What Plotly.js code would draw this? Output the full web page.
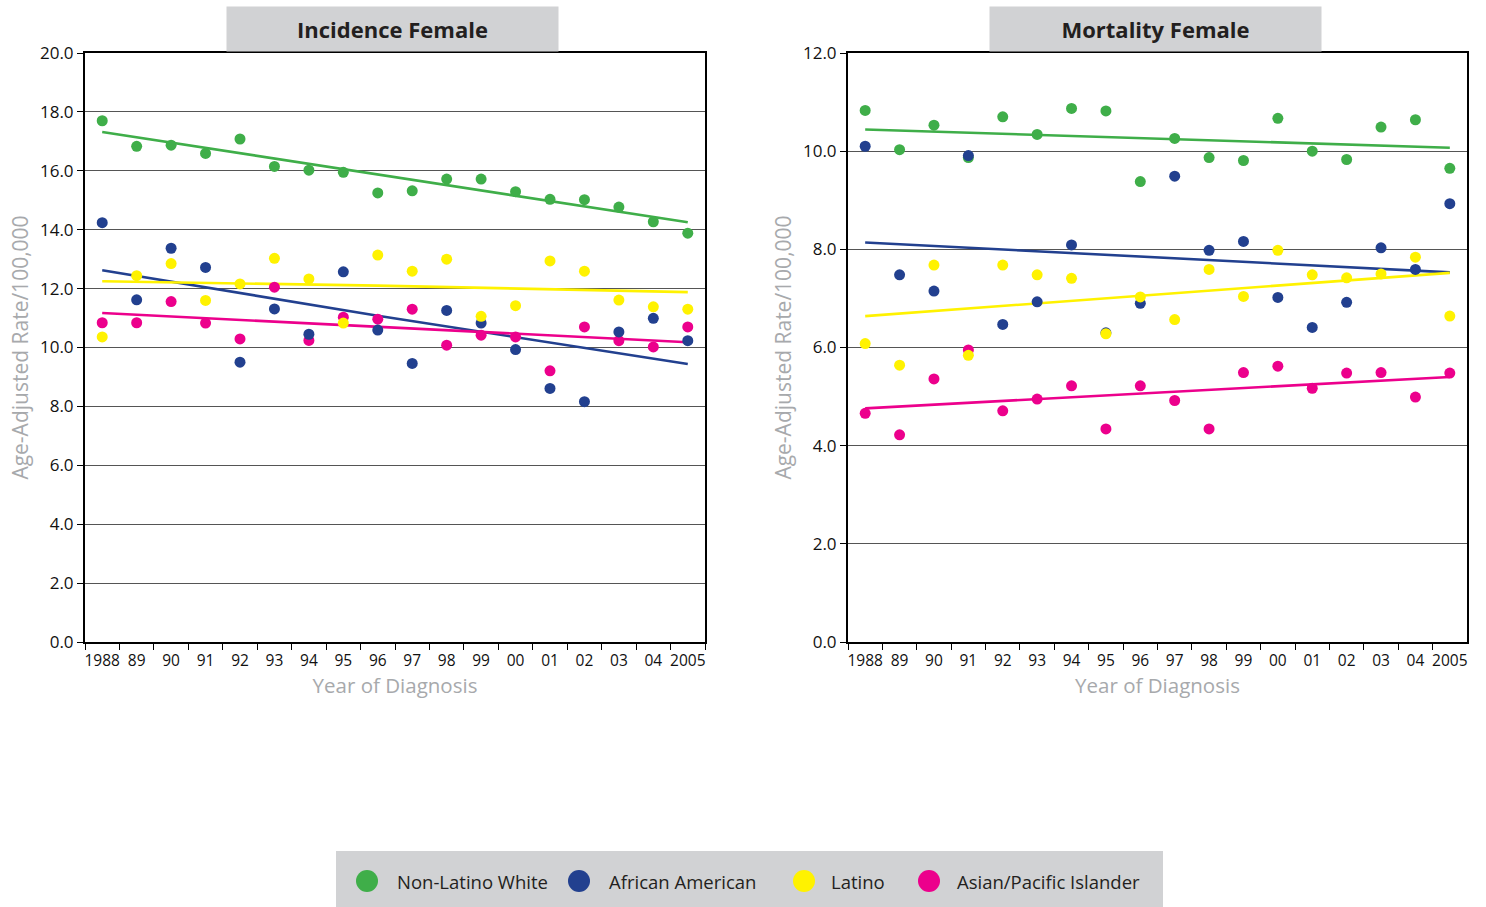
<!DOCTYPE html>
<html>
<head>
<meta charset="utf-8">
<script src="https://cdn.plot.ly/plotly-3.0.1.min.js"></script>
<style>html,body{margin:0;padding:0;background:#fff;}#chart{width:1486px;height:907px;}</style>
</head>
<body>
<div id="chart"></div>
<script>
// ---- data ----
const years = ['1988','89','90','91','92','93','94','95','96','97','98','99','00','01','02','03','04','2005'];
const seriesNames = ['Non-Latino White','African American','Latino','Asian/Pacific Islander'];

const incWhite  = [17.70,16.83,16.87,16.59,17.08,16.15,16.02,15.95,15.25,15.32,15.72,15.72,15.29,15.03,15.02,14.77,14.27,13.88];
const incBlack  = [14.24,11.62,13.37,12.72,9.50,11.31,10.45,12.57,10.59,9.46,11.26,10.83,9.93,8.61,8.16,10.53,10.99,10.23];
const incLatino = [10.36,12.44,12.85,11.60,12.16,13.03,12.33,10.83,13.14,12.59,13.00,11.06,11.42,12.94,12.59,11.61,11.38,11.30];
const incAPI    = [10.84,10.84,11.56,10.83,10.29,12.05,10.24,11.03,10.96,11.30,10.08,10.42,10.36,9.21,10.70,10.23,10.02,10.70];

const morWhite  = [10.83,10.03,10.53,9.87,10.70,10.34,10.87,10.82,9.38,10.26,9.87,9.81,10.67,10.00,9.83,10.49,10.64,9.65];
const morBlack  = [10.10,7.48,7.15,9.91,6.47,6.93,8.09,6.30,6.90,9.49,7.98,8.16,7.02,6.41,6.92,8.03,7.59,8.93];
const morLatino = [6.08,5.64,7.68,5.84,7.68,7.48,7.41,6.28,7.03,6.57,7.59,7.04,7.98,7.48,7.42,7.50,7.84,6.64];
const morAPI    = [4.66,4.22,5.36,5.95,4.71,4.95,5.22,4.34,5.22,4.92,4.34,5.49,5.62,5.17,5.48,5.49,4.99,5.48];

// trend lines
const incTrendYears = ['1988','96','2005'];
const incTrendWhite  = [17.32,15.87,14.25];
const incTrendBlack  = [12.62,11.08,9.44];
const incTrendLatino = [12.25,12.10,11.88];
const incTrendAPI    = [11.17,10.71,10.18];

const morTrendYears = ['1988','2005'];
const morTrendWhite  = [10.44,10.07];
const morTrendBlack  = [8.14,7.53];
const morTrendLatino = [6.64,7.52];
const morTrendAPI    = [4.76,5.40];

const yTickVals = [0,2,4,6,8,10,12,14,16,18,20];

// ---- styles ----
const colors = {white:'#3fae49', black:'#22408f', latino:'#fff200', api:'#ec008c'};
const FONT = 'Open Sans, Noto Sans, sans-serif';
const W = 1486, H = 907;
const px = v => v / W;
const py = v => 1 - v / H;

function pts(x, y, color, xa, ya) {
  return {type:'scatter', mode:'markers', x:x, y:y, xaxis:xa, yaxis:ya, showlegend:false,
    marker:{size:11, color:color, line:{width:0}}, hoverinfo:'x+y'};
}
function trend(x, y, color, xa, ya) {
  return {type:'scatter', mode:'lines', x:x, y:y, xaxis:xa, yaxis:ya, showlegend:false,
    line:{color:color, width:2.6}, hoverinfo:'skip'};
}

const data = [
  trend(incTrendYears, incTrendWhite, colors.white, 'x', 'y'),
  trend(incTrendYears, incTrendBlack, colors.black, 'x', 'y'),
  trend(incTrendYears, incTrendLatino, colors.latino, 'x', 'y'),
  trend(incTrendYears, incTrendAPI, colors.api, 'x', 'y'),
  pts(years, incWhite, colors.white, 'x', 'y'),
  pts(years, incAPI, colors.api, 'x', 'y'),
  pts(years, incBlack, colors.black, 'x', 'y'),
  pts(years, incLatino, colors.latino, 'x', 'y'),

  trend(morTrendYears, morTrendWhite, colors.white, 'x2', 'y2'),
  trend(morTrendYears, morTrendBlack, colors.black, 'x2', 'y2'),
  trend(morTrendYears, morTrendLatino, colors.latino, 'x2', 'y2'),
  trend(morTrendYears, morTrendAPI, colors.api, 'x2', 'y2'),
  pts(years, morWhite, colors.white, 'x2', 'y2'),
  pts(years, morAPI, colors.api, 'x2', 'y2'),
  pts(years, morBlack, colors.black, 'x2', 'y2'),
  pts(years, morLatino, colors.latino, 'x2', 'y2')
];

function xAxis(domain, anchor) {
  return {domain:domain, anchor:anchor, type:'category', categoryorder:'array', categoryarray:years,
    range:[-0.5, 17.5], tickson:'boundaries', ticks:'outside', ticklen:6, tickwidth:1, tickcolor:'#000',
    tickangle:0, ticklabelstandoff:3, showline:true, linecolor:'#000', linewidth:2, mirror:true,
    showgrid:false, zeroline:false,
    tickfont:{family:FONT, size:15.5, color:'#111'},
    title:{text:'Year of Diagnosis', font:{family:FONT, size:20.5, color:'#a7a9ac'}, standoff:1}};
}
function yAxis(domain, anchor, max) {
  return {domain:domain, anchor:anchor, range:[0, max], tickvals:yTickVals.filter(v => v <= max),
    tickformat:'.1f', ticks:'outside', ticklen:6, tickwidth:1, tickcolor:'#000',
    showline:true, linecolor:'#000', linewidth:2, mirror:true,
    showgrid:true, gridcolor:'#555', gridwidth:1, zeroline:false,
    tickfont:{family:FONT, size:17, color:'#111'},
    title:{text:'Age-Adjusted Rate/100,000', font:{family:FONT, size:21, color:'#a7a9ac'}, standoff:6}};
}

const yDom = [py(642), py(53)];
const legendItems = [
  {cx:367, tx:395, color:colors.white, name:seriesNames[0]},
  {cx:579, tx:607, color:colors.black, name:seriesNames[1]},
  {cx:804, tx:829, color:colors.latino, name:seriesNames[2]},
  {cx:929, tx:955, color:colors.api, name:seriesNames[3]}
];

const shapes = [
  {type:'rect', xref:'paper', yref:'paper', x0:px(336), x1:px(1163), y0:py(907), y1:py(851),
   fillcolor:'#d1d2d4', line:{width:0}, layer:'below'}
];
legendItems.forEach(it => {
  shapes.push({type:'circle', xref:'paper', yref:'paper', x0:px(it.cx-11), x1:px(it.cx+11),
    y0:py(892), y1:py(870), fillcolor:it.color, line:{width:0}});
});

const annotations = [
  {text:'<b>Incidence Female</b>', xref:'paper', yref:'paper', x:px(392.5), y:py(29), xanchor:'center', yanchor:'middle',
   showarrow:false, width:331, height:44, bgcolor:'#d1d2d4', borderpad:0, font:{family:FONT, size:22, color:'#231f20'}},
  {text:'<b>Mortality Female</b>', xref:'paper', yref:'paper', x:px(1155.5), y:py(29), xanchor:'center', yanchor:'middle',
   showarrow:false, width:331, height:44, bgcolor:'#d1d2d4', borderpad:0, font:{family:FONT, size:22, color:'#231f20'}}
];
legendItems.forEach(it => {
  annotations.push({text:it.name, xref:'paper', yref:'paper', x:px(it.tx), y:py(881), xanchor:'left', yanchor:'middle',
    showarrow:false, font:{family:FONT, size:18.5, color:'#231f20'}});
});

const layout = {
  width:W, height:H, margin:{l:0, r:0, t:0, b:0}, paper_bgcolor:'#fff', plot_bgcolor:'#fff',
  showlegend:false, font:{family:FONT},
  xaxis: xAxis([px(85), px(705)], 'y'),
  yaxis: yAxis(yDom, 'x', 20),
  xaxis2: xAxis([px(848), px(1467)], 'y2'),
  yaxis2: yAxis(yDom, 'x2', 12),
  shapes:shapes, annotations:annotations
};

Plotly.newPlot('chart', data, layout, {displayModeBar:false, staticPlot:true});
</script>
</body>
</html>
